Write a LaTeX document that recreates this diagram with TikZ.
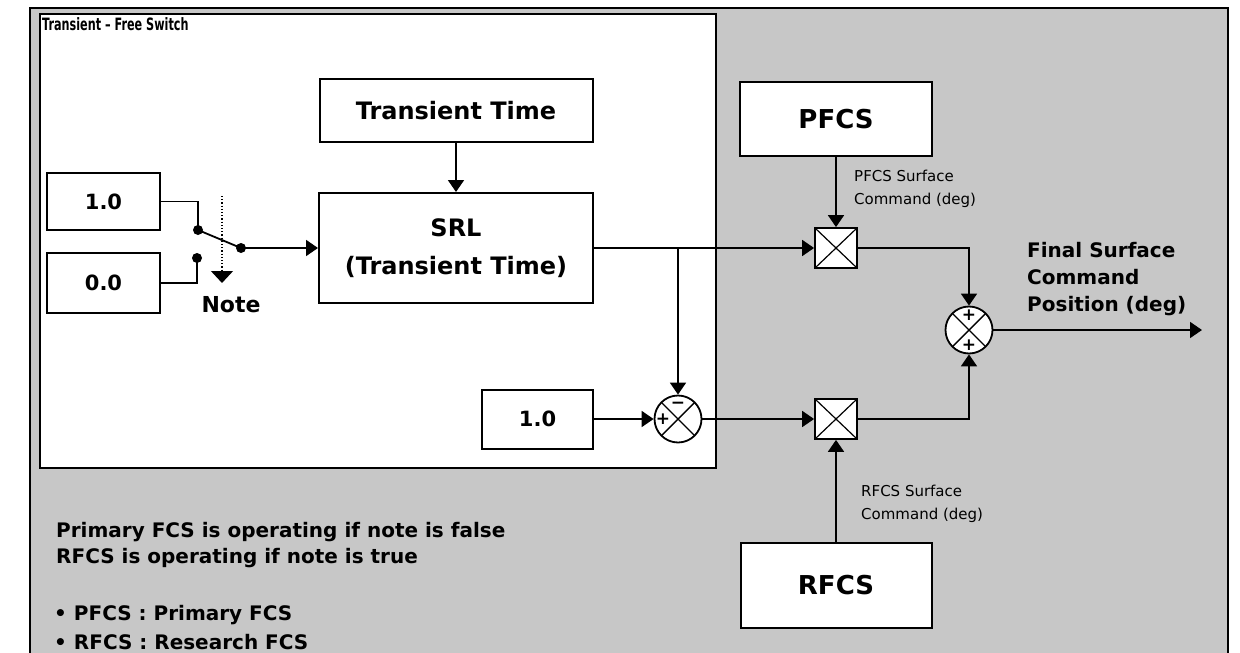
\documentclass[tikz,border=0pt]{standalone}
\usepackage{fontspec}
\setmainfont{DejaVu Sans}
\usetikzlibrary{arrows.meta}
\definecolor{bggray}{gray}{0.78}
\begin{document}
\begin{tikzpicture}[x=1pt,y=-1pt,
  blk/.style={draw, line width=2pt, fill=white, inner sep=0pt, align=center,
    font=\bfseries\fontsize{24}{38}\selectfont},
  conn/.style={line width=1.8pt},
  arr/.style={conn, -{Triangle[length=12pt,width=16pt]}},
  mult/.style={draw, line width=1.8pt, fill=white, minimum width=42pt, minimum height=40pt, inner sep=0pt,
    path picture={\draw[line width=1.2pt] (path picture bounding box.north west) -- (path picture bounding box.south east)
      (path picture bounding box.north east) -- (path picture bounding box.south west);}},
  summer/.style={draw, circle, line width=1.8pt, fill=white, minimum size=47pt, inner sep=0pt,
    path picture={\draw[line width=1.4pt] (path picture bounding box.north west) -- (path picture bounding box.south east)
      (path picture bounding box.north east) -- (path picture bounding box.south west);}},
  sgn/.style={font=\bfseries\fontsize{17}{17}\selectfont, inner sep=0pt},
  swdot/.style={circle, fill=black, minimum size=10pt, inner sep=0pt},
  lbl/.style={anchor=west, align=left, inner sep=0pt, font=\fontsize{15}{23}\selectfont},
  note/.style={anchor=west, align=left, inner sep=0pt, font=\bfseries\fontsize{20}{26}\selectfont}
]
\useasboundingbox (0,0) rectangle (1240,653);
\fill[white] (0,0) rectangle (1240,653);
% background and frames
\fill[bggray] (30,8) rectangle (1228,660);
\draw[line width=2.5pt] (30,660) -- (30,8) -- (1228,8) -- (1228,660);
\draw[line width=2pt, fill=white] (40,14) rectangle (716,468);
\node[anchor=west, inner sep=0pt, font=\bfseries\fontsize{17}{19}\selectfont] (title) at (42,24) {\scalebox{0.66}[1]{Transient – Free Switch}};

% blocks
\node[blk, minimum width=113pt, minimum height=57pt, font=\bfseries\fontsize{21}{24}\selectfont] (one) at (103.5,201.5) {1.0};
\node[blk, minimum width=113pt, minimum height=60pt, font=\bfseries\fontsize{21}{24}\selectfont] (zero) at (103.5,283) {0.0};
\node[blk, minimum width=273pt, minimum height=63pt] (tt) at (456,110.5) {Transient Time};
\node[blk, minimum width=274pt, minimum height=110pt] (srl) at (456,248) {SRL\\(Transient Time)};
\node[blk, minimum width=111pt, minimum height=59pt, font=\bfseries\fontsize{21}{24}\selectfont] (one2) at (537.5,419) {1.0};
\node[blk, minimum width=192pt, minimum height=74pt, font=\bfseries\fontsize{26}{30}\selectfont] (pfcs) at (836,119) {PFCS};
\node[blk, minimum width=191pt, minimum height=85pt, font=\bfseries\fontsize{26}{30}\selectfont] (rfcs) at (836,585.5) {RFCS};

% junctions
\node[mult] (pm) at (836,248) {};
\node[mult] (rm) at (836,419) {};
\node[summer] (sub) at (678,419) {};
\node[sgn] (subm) at (678,405) {−};
\node[sgn] (subp) at (663,419) {+};
\node[summer] (sum) at (969,330) {};
\node[sgn] (sump1) at (969,315) {+};
\node[sgn] (sump2) at (969,345) {+};

% switch
\node[swdot] (swA) at (198,230) {};
\node[swdot] (swB) at (197,258) {};
\node[swdot] (swC) at (241,248) {};
\draw[conn] (one.east) -| (swA.center);
\draw[conn] (zero.east) -| (swB.center);
\draw[conn] (swA.center) -- (swC.center);
\draw[arr] (swC.center) -- (srl.west);
\coordinate (nt) at (222,196);
\coordinate (nb) at (222,283);
\draw[dotted, line width=1.2pt, -{Triangle[length=12pt,width=22pt]}] (nt) -- (nb);
\node[font=\bfseries\fontsize{22}{24}\selectfont, inner sep=0pt] (notetxt) at (231,305) {Note};

% connections
\draw[arr] (tt.south) -- (srl.north);
\draw[arr] (srl.east) -- (pm.west);
\coordinate (br) at (678,248);
\draw[arr] (br) -- (sub.north);
\draw[arr] (one2.east) -- (sub.west);
\draw[arr] (sub.east) -- (rm.west);
\draw[arr] (pfcs.south) -- (pm.north);
\draw[arr] (rfcs.north) -- (rm.south);
\draw[arr] (pm.east) -| (sum.north);
\draw[arr] (rm.east) -| (sum.south);
\coordinate (out) at (1202,330);
\draw[arr] (sum.east) -- (out);

% labels
\node[lbl] (pl) at (854,188.5) {PFCS Surface\\Command (deg)};
\node[lbl] (rl) at (861,503.5) {RFCS Surface\\Command (deg)};
\node[anchor=west, align=left, inner sep=0pt, font=\bfseries\fontsize{20}{27}\selectfont] (fl) at (1027,279.5) {Final Surface\\Command\\Position (deg)};

\node[note] (n1) at (56,545) {Primary FCS is operating if note is false\\RFCS is operating if note is true};
\node[note, font=\bfseries\fontsize{20}{29}\selectfont] (n2) at (54,627.5) {• PFCS : Primary FCS\\• RFCS : Research FCS};
\end{tikzpicture}
\end{document}
